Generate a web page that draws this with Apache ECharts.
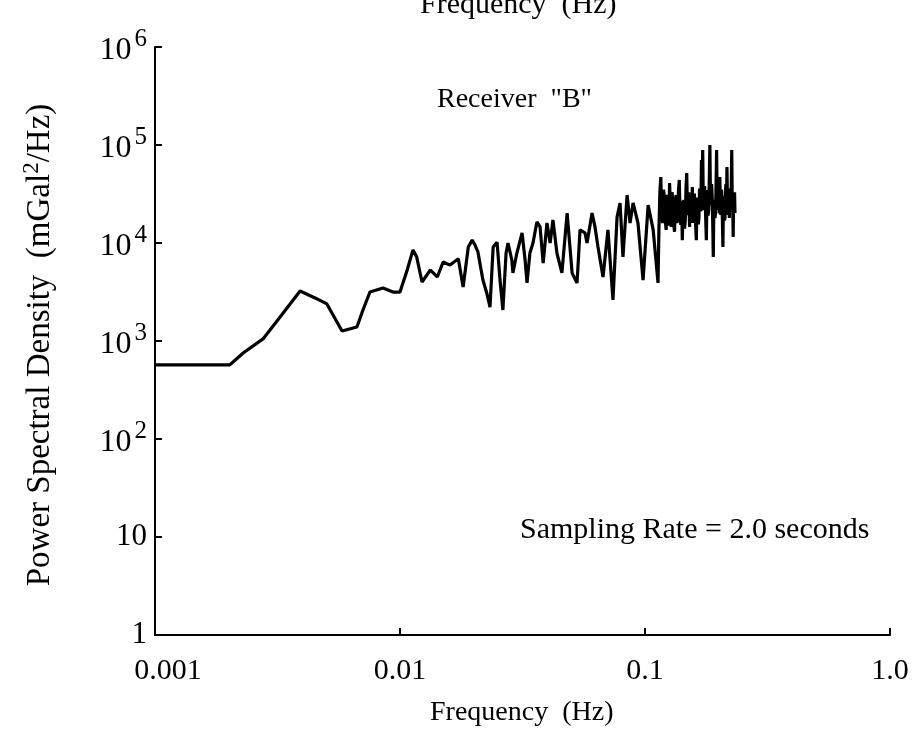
<!DOCTYPE html>
<html>
<head>
<meta charset="utf-8">
<script src="https://cdn.jsdelivr.net/npm/echarts@6/dist/echarts.min.js"></script>
<style>
  html, body { margin: 0; padding: 0; background: #fff; }
  #main { width: 920px; height: 748px; }
</style>
</head>
<body>
<div id="main"></div>
<script>
// frequency (Hz) and PSD (mGal^2/Hz)
var freq = [
  0.001, 0.00202, 0.00229, 0.00276, 0.00324, 0.00391, 0.0045, 0.00503, 0.0058, 0.00667,
  0.00706, 0.00754, 0.00852, 0.00936, 0.0100, 0.0107, 0.0113, 0.0117, 0.0123, 0.0133,
  0.0142, 0.0150, 0.0160, 0.0173, 0.0181, 0.0190, 0.0197, 0.0202, 0.0208, 0.0218,
  0.0226, 0.0233, 0.0240, 0.0249, 0.0256, 0.0263, 0.0271, 0.0276, 0.0286, 0.0289,
  0.0300, 0.0315, 0.0324, 0.0330, 0.0339, 0.0349, 0.0362, 0.0373, 0.0384, 0.0398,
  0.0410, 0.0421, 0.0437, 0.0458, 0.0481, 0.0494, 0.0504, 0.0528, 0.0543, 0.0569,
  0.0580, 0.0608, 0.0625, 0.0643, 0.0674, 0.0706, 0.0740, 0.0769, 0.0791, 0.0813,
  0.0845, 0.0869, 0.0894, 0.0936, 0.0982, 0.103, 0.108, 0.113,
  0.114, 0.115, 0.116, 0.117, 0.118, 0.119, 0.120, 0.121, 0.122, 0.123,
  0.124, 0.125, 0.126, 0.127, 0.128, 0.129, 0.130, 0.131, 0.132, 0.133,
  0.134, 0.135, 0.136, 0.137, 0.138, 0.139, 0.140, 0.141, 0.142, 0.143,
  0.144, 0.145, 0.146, 0.147, 0.148, 0.149, 0.150, 0.151, 0.152, 0.153,
  0.154, 0.155, 0.156, 0.157, 0.158, 0.159, 0.160, 0.161, 0.162, 0.163,
  0.164, 0.165, 0.166, 0.167, 0.168, 0.169, 0.170, 0.171, 0.172, 0.173,
  0.174, 0.175, 0.176, 0.177, 0.178, 0.179, 0.180, 0.181, 0.182, 0.183,
  0.184, 0.185, 0.186, 0.187, 0.188, 0.189, 0.190, 0.191, 0.192, 0.193,
  0.194, 0.195, 0.196, 0.197, 0.198, 0.199, 0.200, 0.201, 0.202, 0.203,
  0.204, 0.205, 0.206, 0.207, 0.208, 0.209, 0.210, 0.211, 0.212, 0.213,
  0.214, 0.215, 0.216, 0.217, 0.218, 0.219, 0.220, 0.221, 0.222, 0.223,
  0.224, 0.225, 0.226, 0.227, 0.228, 0.229, 0.230, 0.231, 0.232, 0.233
];
var psd = [
  570, 570, 755, 1050, 1760, 3240, 2750, 2390, 1265, 1390,
  2070, 3160, 3470, 3160, 3160, 5300, 8500, 7200, 4000, 5300,
  4500, 6400, 5950, 6900, 3560, 9100, 10700, 9600, 8100, 4190,
  3090, 2220, 9100, 10200, 4190, 2070, 7900, 10000, 6710, 4950,
  7900, 12700, 6710, 3910, 7900, 10000, 16400, 14600, 6250, 16000,
  10000, 17200, 7900, 4950, 20200, 9100, 4950, 3910, 13600, 12700,
  10000, 20200, 14600, 9100, 4500, 13600, 2620, 18400, 25600, 7200,
  30900, 16000, 25600, 16000, 4190, 24400, 13600, 3910,
  14000, 33000, 47000, 20000, 16000, 35000, 29500, 17000, 13600, 31000,
  26000, 15000, 40900, 22000, 14600, 33000, 24000, 15500, 13000, 28000,
  30900, 16000, 18000, 34000, 44000, 20000, 15300, 27000, 10700, 24000,
  27500, 14000, 17000, 36000, 51800, 22000, 19300, 33000, 14600, 26000,
  28000, 16000, 37200, 24000, 16000, 32000, 24000, 15000, 10700, 29000,
  27500, 15500, 18000, 36000, 33000, 21000, 70300, 30000, 89000, 25000,
  21700, 38000, 30000, 17000, 10700, 31000, 34700, 19000, 22000, 45000,
  100000, 28000, 24400, 40000, 30000, 16000, 7200, 26000, 27500, 18000,
  20000, 38000, 89000, 27000, 21700, 36000, 40000, 20000, 47100, 25000,
  19300, 35000, 28000, 17000, 9100, 30000, 27500, 17000, 18000, 34000,
  40000, 22000, 59700, 28000, 19300, 36000, 30000, 18000, 34700, 26000,
  22000, 40000, 89000, 25000, 30000, 11500, 28000, 25000, 33000, 20200
];
var xTicks = ['0.001', '0.01', '0.1', '1.0'];

var serif = '"Liberation Serif", "DejaVu Serif", serif';
var myChart = echarts.init(document.getElementById('main'));

var option = {
    backgroundColor: '#fff',
    animation: false,
    grid: { left: 155, right: 30, top: 47, bottom: 113 },
    xAxis: {
        type: 'log',
        logBase: 10,
        min: 0.001,
        max: 1,
        splitLine: { show: false },
        axisLine: { lineStyle: { color: '#000', width: 2 } },
        axisTick: { inside: true, length: 7, lineStyle: { color: '#000', width: 2 } },
        minorTick: { show: false },
        axisLabel: {
            margin: 21,
            color: '#000',
            fontFamily: serif,
            fontSize: 30,
            formatter: function (v) {
                var i = Math.round(Math.log10(v)) + 3;
                if (i === 0) return '{a|' + xTicks[i] + '}';
                return xTicks[i];
            },
            rich: {
                a: { fontFamily: serif, fontSize: 30, color: '#000', padding: [0, 0, 0, 26] }
            }
        }
    },
    yAxis: {
        type: 'log',
        logBase: 10,
        min: 1,
        max: 1000000,
        splitLine: { show: false },
        axisLine: { lineStyle: { color: '#000', width: 2 } },
        axisTick: { inside: true, length: 7, lineStyle: { color: '#000', width: 2 } },
        axisLabel: {
            margin: 8,
            color: '#000',
            fontFamily: serif,
            fontSize: 31,
            formatter: function (v) {
                var p = Math.round(Math.log10(v));
                if (p === 0) return '1';
                if (p === 1) return '10';
                return '{b|10}{s|' + p + '}';
            },
            rich: {
                b: { fontFamily: serif, fontSize: 32, color: '#000', verticalAlign: 'bottom' },
                s: { fontFamily: serif, fontSize: 25, color: '#000', verticalAlign: 'bottom', padding: [0, 0, 15, 3] }
            }
        }
    },
    series: [{
        type: 'line',
        data: freq.map(function (f, i) { return [f, psd[i]]; }),
        showSymbol: false,
        lineStyle: { color: '#000', width: 3.2 }
    }],
    graphic: [
        {
            type: 'text', left: 420, top: -10,
            style: { text: 'Frequency  (Hz)', font: '30px ' + serif, fill: '#000' }
        },
        {
            type: 'text', left: 437, top: 86,
            style: { text: 'Receiver  "B"', font: '28px ' + serif, fill: '#000' }
        },
        {
            type: 'text', left: 520, top: 515,
            style: { text: 'Sampling Rate = 2.0 seconds', font: '30px ' + serif, fill: '#000' }
        },
        {
            type: 'text', left: 430, top: 699,
            style: { text: 'Frequency  (Hz)', font: '28px ' + serif, fill: '#000' }
        },
        {
            type: 'text', x: 40, y: 345, rotation: Math.PI / 2,
            style: {
                text: 'Power Spectral Density  (mGal{s|2}/Hz)',
                font: '33px ' + serif, fill: '#000',
                align: 'center', verticalAlign: 'middle',
                rich: {
                    s: { fontFamily: serif, fontSize: 23, verticalAlign: 'bottom', padding: [0, 0, 16, 0] }
                }
            }
        }
    ]
};
myChart.setOption(option);
</script>
</body>
</html>
